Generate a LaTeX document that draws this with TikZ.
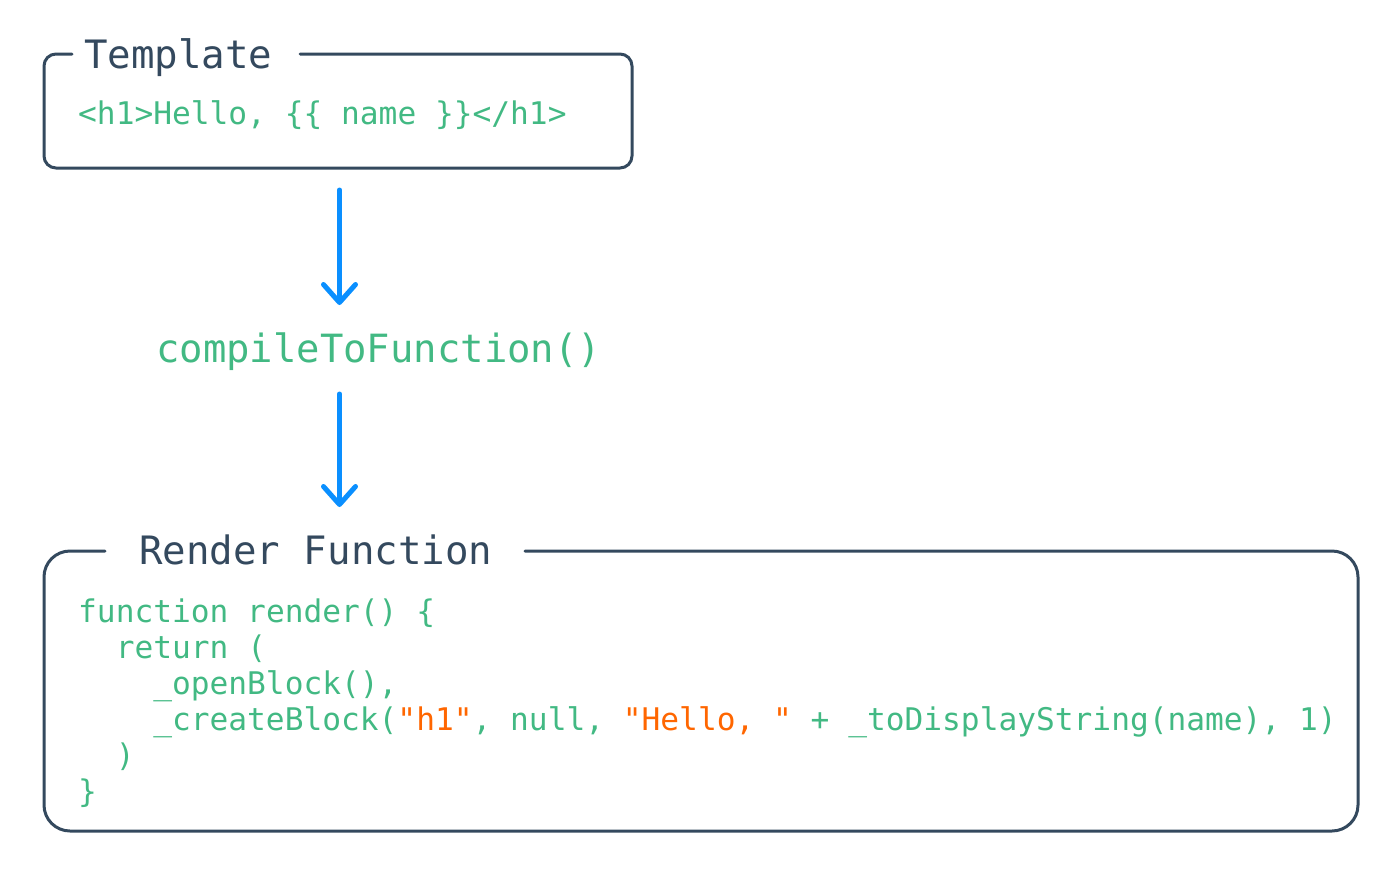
\documentclass[tikz,border=0pt]{standalone}
\usepackage{fontspec}
\setmonofont{DejaVu Sans Mono}
\usepackage{xcolor}
\usetikzlibrary{arrows.meta, positioning}

\definecolor{slate}{HTML}{34495E}
\definecolor{vuegreen}{HTML}{42B983}
\definecolor{strorange}{HTML}{FF6600}
\definecolor{flowblue}{HTML}{0A8FFF}
\newcommand{\strlit}[1]{\textcolor{strorange}{#1}}

\tikzset{
    frame/.style={draw=slate, line width=3pt, line cap=round, line join=round},
    title/.style={anchor=base west, inner sep=0pt, text=slate, font=\ttfamily\fontsize{39.1}{40}\selectfont},
    code/.style={anchor=base west, inner sep=0pt, text=vuegreen, font=\ttfamily\fontsize{31.2}{36}\selectfont},
    flow/.style={draw=flowblue, line width=5pt, line cap=round, -{Straight Barb[length=18pt, width=32pt, line cap=round, line join=round]}}
}

\begin{document}
\begin{tikzpicture}[x=1pt, y=-1pt]
    \useasboundingbox (0, 0) rectangle (1400, 868);

    % template box
    \draw[frame, rounded corners=12] (300, 54) -- (632, 54) -- (632, 168) -- (44, 168) -- (44, 54) -- (72, 54);
    \node[title] (tpltitle) at (84, 68) {Template};
    \node[code] (tplcode) at (78, 124) {<h1>Hello, \{\{ name \}\}</h1>};

    % compile step
    \node[code, font=\ttfamily\fontsize{38.9}{40}\selectfont] (compile) at (156, 362) {compileToFunction()};
    \coordinate (a1s) at (339.5, 190);
    \coordinate (a1e) at (339.5, 305);
    \coordinate (a2s) at (339.5, 394);
    \coordinate (a2e) at (339.5, 507);
    \draw[flow] (a1s) -- (a1e);
    \draw[flow] (a2s) -- (a2e);

    % render function box
    \draw[frame, rounded corners=26] (525, 551) -- (1358, 551) -- (1358, 831) -- (44, 831) -- (44, 551) -- (105, 551);
    \node[title] (rndtitle) at (139, 564) {Render Function};
    \node[code] (l1) at (78, 622) {function render() \{};
    \node[code] (l2) at (115.6, 658) {return (};
    \node[code] (l3) at (153.1, 694) {\_openBlock(),};
    \node[code] (l4) at (153.1, 730) {\_createBlock(\strlit{"h1"}, null, \strlit{"Hello, "} + \_toDisplayString(name), 1)};
    \node[code] (l5) at (115.6, 766) {)};
    \node[code] (l6) at (78, 802) {\}};
\end{tikzpicture}
\end{document}
